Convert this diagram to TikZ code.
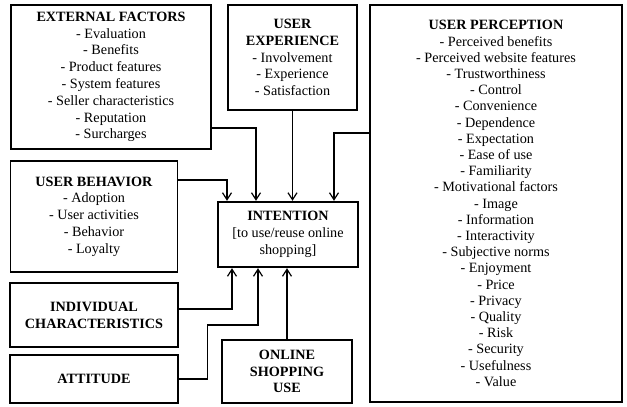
\documentclass[tikz,border=0pt]{standalone}
\usepackage{fontspec}
\setmainfont{Liberation Serif}
\usetikzlibrary{arrows.meta}
\tikzset{
	factor/.style={draw, line width=1.2pt, inner sep=0pt, align=center,
		font=\fontsize{14.2}{16.8}\selectfont},
	core/.style={factor, line width=2.4pt},
	link/.style={line width=1.2pt, -{Straight Barb[length=7pt, width=9pt, line width=1.2pt]}}
}

\begin{document}
\begin{tikzpicture}[x=1pt, y=-1pt]
	\useasboundingbox (0,0) rectangle (627,407);
	% boxes round the intention
	\node[factor, minimum width=200pt, minimum height=144pt] (ext) at (111, 77)
	{\textbf{EXTERNAL FACTORS}\\- Evaluation\\- Benefits\\- Product features\\- System features\\- Seller characteristics\\- Reputation\\- Surcharges};
	\node[factor, minimum width=129pt, minimum height=105pt] (exp) at (292.5, 57.5)
	{\textbf{USER}\\\textbf{EXPERIENCE}\\- Involvement\\- Experience\\- Satisfaction};
	\node[factor, minimum width=252pt, minimum height=397pt, font=\fontsize{14.2}{16.2}\selectfont] (perc) at (496, 203.5)
	{\textbf{USER PERCEPTION}\\- Perceived benefits\\- Perceived website features\\- Trustworthiness\\- Control\\- Convenience\\- Dependence\\- Expectation\\- Ease of use\\- Familiarity\\- Motivational factors\\- Image\\- Information\\- Interactivity\\- Subjective norms\\- Enjoyment\\- Price\\- Privacy\\- Quality\\- Risk\\- Security\\- Usefulness\\- Value};
	\node[factor, minimum width=167pt, minimum height=111pt] (beh) at (94, 216.5)
	{\textbf{USER BEHAVIOR}\\- Adoption\\- User activities\\- Behavior\\- Loyalty};
	\node[core, minimum width=140pt, minimum height=65pt] (int) at (288, 234.5)
	{\textbf{INTENTION}\\{[}to use/reuse online\\shopping{]}};
	\node[factor, minimum width=168pt, minimum height=64pt] (ind) at (94, 315)
	{\textbf{INDIVIDUAL}\\\textbf{CHARACTERISTICS}};
	\node[factor, minimum width=168pt, minimum height=48pt] (att) at (94, 379)
	{\textbf{ATTITUDE}};
	\node[factor, minimum width=130pt, minimum height=63pt] (use) at (287, 371.5)
	{\textbf{ONLINE}\\\textbf{SHOPPING}\\\textbf{USE}};
	% links into the intention
	\draw[link] (beh.east |- 0,180) -| ([xshift=-61pt]int.north);
	\draw[link] (ext.east |- 0,128) -| ([xshift=-32pt]int.north);
	\draw[link] (exp.south) -- (exp.south |- int.north);
	\draw[link] (perc.west |- 0,133) -| ([xshift=46pt]int.north);
	\draw[link] (ind.east |- 0,309) -| ([xshift=-56pt]int.south);
	\draw[link] (att.east) -- ++(29pt,0) |- (258,325) -- ([xshift=-30pt]int.south);
	\draw[link] (use.north) -- (use.north |- int.south);
\end{tikzpicture}
\end{document}
